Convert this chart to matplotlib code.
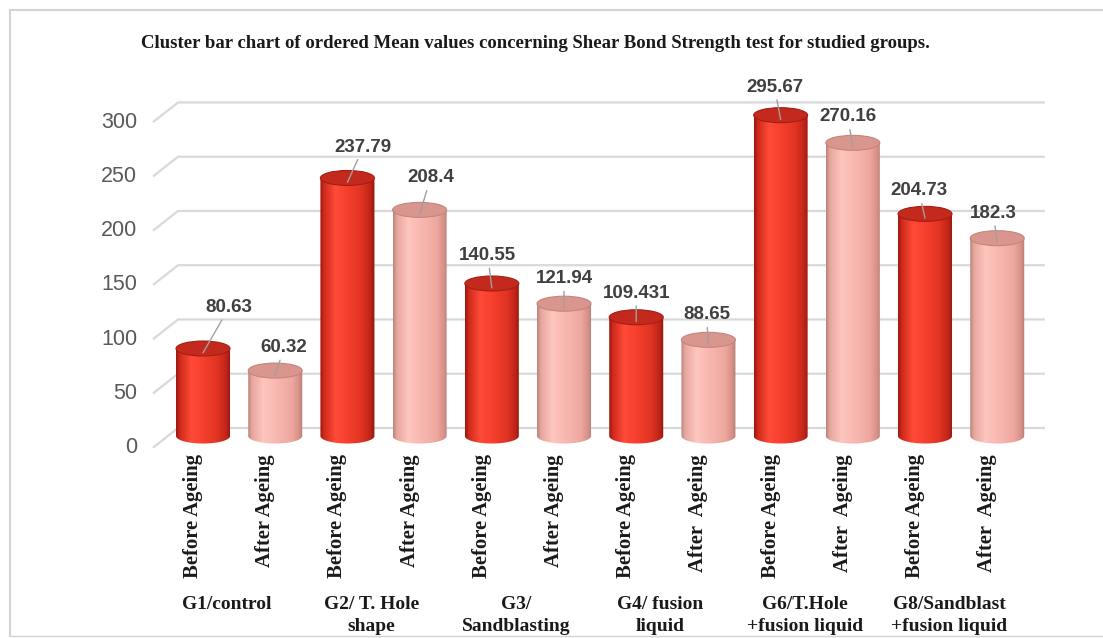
import numpy as np
import matplotlib
matplotlib.use('Agg')
import matplotlib.pyplot as plt
from matplotlib.patches import Ellipse, PathPatch
from matplotlib.path import Path
from matplotlib.colors import LinearSegmentedColormap
from matplotlib.lines import Line2D

# ---------------- data ----------------
title = "Cluster bar chart of ordered Mean values concerning Shear Bond Strength test for studied groups."
groups = ["G1/control", "G2/ T. Hole\nshape", "G3/\nSandblasting", "G4/ fusion\nliquid",
          "G6/T.Hole\n+fusion liquid", "G8/Sandblast\n+fusion liquid"]
before = [80.63, 237.79, 140.55, 109.431, 295.67, 204.73]
after = [60.32, 208.4, 121.94, 88.65, 270.16, 182.3]
before_labels = ["80.63", "237.79", "140.55", "109.431", "295.67", "204.73"]
after_labels = ["60.32", "208.4", "121.94", "88.65", "270.16", "182.3"]
before_ticks = ["Before Ageing"] * 6
after_ticks = ["After Ageing", "After Ageing", "After Ageing", "After  Ageing", "After  Ageing", "After  Ageing"]
yticks = [0, 50, 100, 150, 200, 250, 300]

# ---------------- layout ----------------
W, H = 1103, 638
label_dx = [26, 9, 16, 11, -4, 0, 0, -2, -6, -5, -6, -4]     # px, interleaved before/after
label_dy = [41, 23, 31, 32, 28, 25, 24, 25, 28, 26, 23, 25]   # px above bar top

fig = plt.figure(figsize=(W / 100, H / 100), dpi=100)
ax = fig.add_axes([155 / W, 1 - 460 / H, 895 / W, 390 / H])
ax.set_xlim(-0.665, 11.731)
ax.set_ylim(-22.1, 337.3)
ax.axis('off')

BACK_DY, FRONT_DY = 7.4, -10.8
STUB_X0, STUB_X1, GRID_X1 = -0.693, -0.346, 11.66
grid_col = '#d9d9d9'

for v in yticks:
    ax.plot([STUB_X0, STUB_X1, GRID_X1], [v + FRONT_DY, v + BACK_DY, v + BACK_DY],
            color=grid_col, lw=1.6, clip_on=False, zorder=1, solid_capstyle='butt')
    ax.text(STUB_X0 - 0.22, v + FRONT_DY, str(v), ha='right', va='center',
            fontsize=15.5, color='#595959', family='Liberation Sans')

red_cmap = LinearSegmentedColormap.from_list('red', [
    (0.0, '#9a160e'), (0.07, '#cf2a1c'), (0.28, '#ff4b37'), (0.45, '#f9412f'),
    (0.75, '#e23424'), (0.92, '#c02418'), (1.0, '#8c140c')])
pink_cmap = LinearSegmentedColormap.from_list('pink', [
    (0.0, '#bb817b'), (0.07, '#e6a69e'), (0.28, '#fdc6be'), (0.5, '#f8b9b1'),
    (0.8, '#eea79f'), (0.93, '#d89189'), (1.0, '#b37a72')])
styles = [dict(cmap=red_cmap, top='#c4291d', edge='#a51e14'),
          dict(cmap=pink_cmap, top='#d9968f', edge='#c5847d')]

w = 54 / 72.2
eh = 15 / 1.085
grad = np.linspace(0, 1, 256).reshape(1, -1)

values, labels, ticks, kinds = [], [], [], []
for b, a, bl, al, bt, at in zip(before, after, before_labels, after_labels, before_ticks, after_ticks):
    values += [b, a]
    labels += [bl, al]
    ticks += [bt, at]
    kinds += [0, 1]

for i, (v, lbl, tk, k) in enumerate(zip(values, labels, ticks, kinds)):
    x = i
    st = styles[k]
    theta = np.linspace(np.pi, 2 * np.pi, 60)
    verts = [(x - w / 2, v)] + [(x + w / 2 * np.cos(t), eh / 2 * np.sin(t)) for t in theta] \
            + [(x + w / 2, v), (x - w / 2, v)]
    path = Path(np.array(verts), closed=True)
    patch = PathPatch(path, facecolor='none', edgecolor='none', transform=ax.transData)
    ax.add_patch(patch)
    im = ax.imshow(grad, extent=[x - w / 2, x + w / 2, -eh / 2, v], cmap=st['cmap'],
                   aspect='auto', origin='lower', zorder=2, interpolation='bilinear')
    im.set_clip_path(patch)
    ax.add_patch(Ellipse((x, v), w, eh, facecolor=st['top'], edgecolor=st['edge'],
                         lw=0.8, zorder=3))
    # value label with leader line
    ax.annotate(lbl, xy=(x, v - 4), xytext=(label_dx[i], label_dy[i] + 4.3),
                textcoords='offset pixels', ha='center', va='center',
                fontsize=13.5, weight='bold', family='Liberation Sans', color='#404040',
                arrowprops=dict(arrowstyle='-', color='#a0a0a0', lw=1.0, shrinkA=1, shrinkB=0),
                zorder=5, annotation_clip=False)
    # category tick label
    ax.annotate(tk, xy=(x, 0), xytext=(-10, -18), textcoords='offset pixels',
                rotation=90, ha='center', va='top', fontsize=14.9, weight='bold',
                family='Liberation Serif', color='#1a1a1a', annotation_clip=False)

for g, name in enumerate(groups):
    xc = (2 * g + 2 * g + 1) / 2
    ax.annotate(name, xy=(xc, 0), xytext=(-12, -160), textcoords='offset pixels',
                ha='center', va='top', multialignment='center', fontsize=14,
                weight='bold', family='Liberation Serif', color='#1a1a1a',
                linespacing=1.4, annotation_clip=False)

fig.text(535 / W, 1 - 44 / H, title, ha='center', va='center', fontsize=13.5,
         family='Liberation Serif', weight='bold', color='#1a1a1a')

# outer frame
frame = '#d4d4d4'
fig.add_artist(Line2D([10 / W, 1.0], [1 - 10 / H, 1 - 10 / H], color=frame, lw=1.5))
fig.add_artist(Line2D([10 / W, 10 / W], [1 - 10 / H, 1 - 636 / H], color=frame, lw=1.5))
fig.add_artist(Line2D([10 / W, 1.0], [1 - 636 / H, 1 - 636 / H], color=frame, lw=1.0))

fig.savefig('out.png', dpi=100)
